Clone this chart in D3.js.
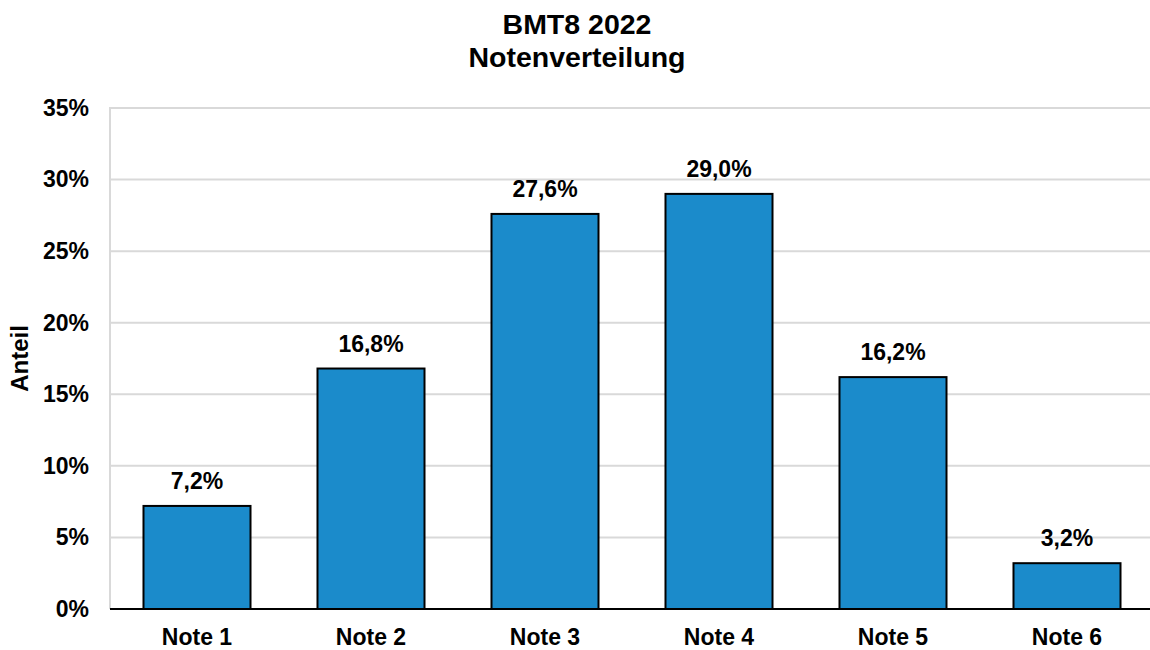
<!DOCTYPE html>
<html>
<head>
<meta charset="utf-8">
<script src="https://cdn.jsdelivr.net/npm/d3@7"></script>
<style>
  body { margin: 0; background: #fff; }
  text { font-family: "Liberation Sans", Arial, sans-serif; font-weight: bold; fill: #000; }
</style>
</head>
<body>
<div id="chart"></div>
<script>
// chart data
const categories = ["Note 1", "Note 2", "Note 3", "Note 4", "Note 5", "Note 6"];
const shares = [7.2, 16.8, 27.6, 29.0, 16.2, 3.2];
const yTicks = [0, 5, 10, 15, 20, 25, 30, 35];
const titleLines = ["BMT8 2022", "Notenverteilung"];
const yTitle = "Anteil";

const width = 1150, height = 650;
const margin = { top: 108, right: -4, bottom: 41, left: 110 };
const labelSize = 23;

const svg = d3.select("#chart").append("svg")
  .attr("width", width)
  .attr("height", height);

const x = d3.scaleBand()
  .domain(categories)
  .range([margin.left, width - margin.right])
  .paddingInner(0.385)
  .paddingOuter(0.1925);

const y = d3.scaleLinear()
  .domain([0, 35])
  .range([height - margin.bottom, margin.top]);

// gridlines
svg.append("g")
  .selectAll("line")
  .data(yTicks.filter(d => d > 0))
  .join("line")
  .attr("x1", margin.left)
  .attr("x2", width)
  .attr("y1", d => y(d))
  .attr("y2", d => y(d))
  .attr("stroke", "#d9d9d9")
  .attr("stroke-width", 2);

// left axis line
svg.append("line")
  .attr("x1", margin.left).attr("x2", margin.left)
  .attr("y1", y(35) - 1).attr("y2", y(0))
  .attr("stroke", "#d9d9d9")
  .attr("stroke-width", 2);

// y axis labels
const yAxis = d3.axisLeft(y)
  .tickValues(yTicks)
  .tickFormat(d => d + "%")
  .tickSize(0)
  .tickPadding(21);

svg.append("g")
  .attr("transform", `translate(${margin.left},0)`)
  .call(yAxis)
  .call(g => g.select(".domain").remove())
  .call(g => g.selectAll("text")
    .attr("font-size", labelSize)
    .attr("font-family", "Liberation Sans, Arial, sans-serif")
    .attr("font-weight", "bold")
    .attr("fill", "#000"));

// bars
svg.append("g")
  .selectAll("rect")
  .data(shares)
  .join("rect")
  .attr("x", (d, i) => x(categories[i]))
  .attr("y", d => y(d))
  .attr("width", x.bandwidth())
  .attr("height", d => y(0) - y(d))
  .attr("fill", "#1b8bcb")
  .attr("stroke", "#000")
  .attr("stroke-width", 2);

// baseline
svg.append("line")
  .attr("x1", margin.left).attr("x2", width)
  .attr("y1", y(0)).attr("y2", y(0))
  .attr("stroke", "#000")
  .attr("stroke-width", 2);

// value labels
svg.append("g")
  .selectAll("text")
  .data(shares)
  .join("text")
  .attr("x", (d, i) => x(categories[i]) + x.bandwidth() / 2)
  .attr("y", d => y(d) - 17)
  .attr("text-anchor", "middle")
  .attr("font-size", labelSize)
  .text(d => d.toFixed(1).replace(".", ",") + "%");

// x axis labels
const xAxis = d3.axisBottom(x).tickSize(0).tickPadding(20);
svg.append("g")
  .attr("transform", `translate(0,${y(0)})`)
  .call(xAxis)
  .call(g => g.select(".domain").remove())
  .call(g => g.selectAll("text")
    .attr("font-size", labelSize)
    .attr("font-family", "Liberation Sans, Arial, sans-serif")
    .attr("font-weight", "bold")
    .attr("fill", "#000"));

// title
svg.append("g")
  .selectAll("text")
  .data(titleLines)
  .join("text")
  .attr("x", 577)
  .attr("y", (d, i) => 34 + i * 33)
  .attr("text-anchor", "middle")
  .attr("font-size", 28.5)
  .text(d => d);

// y axis title
svg.append("text")
  .attr("transform", `translate(28,${(y(0) + y(35)) / 2}) rotate(-90)`)
  .attr("text-anchor", "middle")
  .attr("font-size", 24)
  .text(yTitle);
</script>
</body>
</html>
